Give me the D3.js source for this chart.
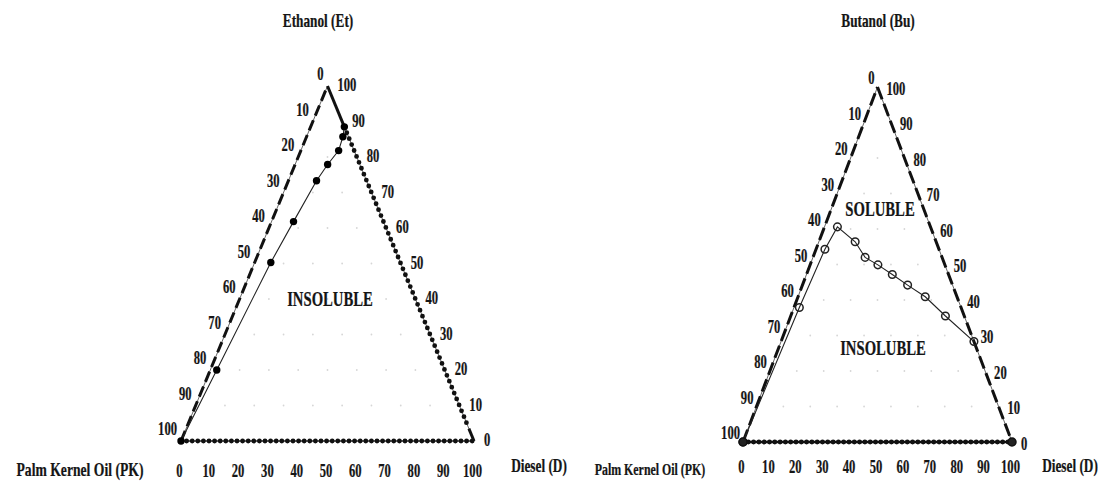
<!DOCTYPE html>
<html>
<head>
<meta charset="utf-8">
<script src="https://cdn.jsdelivr.net/npm/d3@7"></script>
<style>
  body { margin: 0; background: #fff; }
  text { font-family: "Liberation Serif", "Times New Roman", serif; font-weight: bold; fill: #151515; stroke: #151515; stroke-width: 0.25px; }
</style>
</head>
<body>
<div id="chart"></div>
<script>
// tick values on every side of both triangles
const ticks = [0, 10, 20, 30, 40, 50, 60, 70, 80, 90, 100];

// ethanol / palm kernel oil / diesel solubility curve (percent)
const etDiesel  = [0, 2.2, 5.5, 7.5, 9.6, 11.1, 12.9, 12.4, 11.5];
const etEthanol = [0, 20.0, 50.3, 61.8, 73.3, 77.9, 81.8, 85.7, 88.5];

// butanol / palm kernel oil / diesel solubility curve (percent)
const buDiesel  = [0, 2.0, 3.3, 4.8, 13.5, 19.4, 25.2, 31.9, 39.1, 47.3, 57.5, 71.7];
const buButanol = [0, 37.9, 54.3, 60.6, 56.4, 52.0, 49.9, 47.2, 44.2, 40.9, 35.5, 28.3];

const width = 1102;
const height = 483;

const svg = d3.select("#chart")
  .append("svg")
  .attr("width", width)
  .attr("height", height);

// bold condensed serif like the source figure
function label(x, y, str, size, anchor) {
  svg.append("text")
    .attr("transform", `translate(${x},${y}) scale(0.7,1)`)
    .attr("text-anchor", anchor || "middle")
    .attr("font-size", size)
    .text(str);
}

function triangle(opt) {
  const x = d3.scaleLinear().domain([0, 100]).range([opt.x0, opt.x1]);
  const y = d3.scaleLinear().domain([0, 100]).range([opt.y0, opt.y1]);
  // d = diesel %, t = top component %
  const px = (d, t) => x(d + t / 2);
  const py = (d, t) => y(t);
  const line = d3.line().x(p => px(p[0], p[1])).y(p => py(p[0], p[1]));

  const g = svg.append("g");

  // faint grid dots
  ticks.forEach(t => {
    ticks.forEach(d => {
      if (t > 0 && d > 0 && t + d < 100) {
        g.append("circle")
          .attr("cx", px(d, t))
          .attr("cy", py(d, t))
          .attr("r", 0.9)
          .attr("fill", "#d6d6d6");
      }
    });
  });

  const BL = [0, 0], BR = [100, 0], AP = [0, 100];

  // thin frame underneath
  g.append("path")
    .attr("d", line([BL, AP, BR, BL]))
    .attr("fill", "none")
    .attr("stroke", "#666")
    .attr("stroke-width", 1);

  // left edge: long dashes
  g.append("path")
    .attr("d", line([BL, AP]))
    .attr("fill", "none")
    .attr("stroke", "#111")
    .attr("stroke-width", 3)
    .attr("stroke-dasharray", opt.dash);

  if (opt.rightDotted) {
    g.append("path")
      .attr("d", line([[100 - 88.5, 88.5], AP]))
      .attr("fill", "none")
      .attr("stroke", "#111")
      .attr("stroke-width", 3);
    g.append("path")
      .attr("d", line([[100 - 88.5, 88.5], [95.5, 4.5]]))
      .attr("fill", "none")
      .attr("stroke", "#111")
      .attr("stroke-width", 4.8)
      .attr("stroke-linecap", "round")
      .attr("stroke-dasharray", "0,6.4");
    g.append("path")
      .attr("d", line([[96.5, 3.5], BR]))
      .attr("fill", "none")
      .attr("stroke", "#111")
      .attr("stroke-width", 3);
  } else {
    g.append("path")
      .attr("d", line([AP, BR]))
      .attr("fill", "none")
      .attr("stroke", "#111")
      .attr("stroke-width", 3)
      .attr("stroke-dasharray", opt.dash);
  }

  // bottom edge: chain of dots
  g.append("path")
    .attr("d", line([BL, BR]))
    .attr("fill", "none")
    .attr("stroke", "#111")
    .attr("stroke-width", opt.bottomLine);
  g.append("path")
    .attr("d", line([BL, BR]))
    .attr("fill", "none")
    .attr("stroke", "#111")
    .attr("stroke-width", 4.8)
    .attr("stroke-linecap", "round")
    .attr("stroke-dasharray", opt.bottomDots);

  // solubility curve
  const pts = opt.diesel.map((d, i) => [d, opt.top[i]]);
  g.append("path")
    .attr("d", line(pts))
    .attr("fill", "none")
    .attr("stroke", "#222")
    .attr("stroke-width", 1.1);

  g.selectAll(".pt")
    .data(pts)
    .join("circle")
    .attr("cx", p => px(p[0], p[1]))
    .attr("cy", p => py(p[0], p[1]))
    .attr("r", opt.hollow ? 3.8 : 3.7)
    .attr("fill", opt.hollow ? "none" : "#000")
    .attr("stroke", opt.hollow ? "#222" : "none")
    .attr("stroke-width", 1.5);

  if (opt.hollow) {
    [BL, BR].forEach(p => {
      g.append("circle")
        .attr("cx", px(p[0], p[1]))
        .attr("cy", py(p[0], p[1]))
        .attr("r", 4)
        .attr("fill", "#222")
        .attr("stroke", "#111")
        .attr("stroke-width", 1.5);
    });
  }

  // tick labels
  ticks.forEach(v => {
    // left edge: palm kernel oil
    label(px(0, 100 - v) - opt.lx, py(0, 100 - v) - opt.ly, v, 18, "end");
    // right edge: alcohol
    label(px(100 - v, v) + opt.rx, py(100 - v, v) + opt.ry, v, 18, "start");
    // bottom: diesel
    label(px(v, 0) - 1.5, opt.by, v, 18, "middle");
  });

  label(opt.titleX, 27, opt.title, 19, "middle");
}

triangle({
  x0: 181, x1: 474, y0: 441, y1: 86,
  diesel: etDiesel, top: etEthanol,
  dash: "11,5", rightDotted: true,
  bottomLine: 1, bottomDots: "0,5.6",
  hollow: false,
  lx: 4, ly: 6, rx: 10, ry: 5, by: 477,
  title: "Ethanol (Et)", titleX: 318
});

triangle({
  x0: 743, x1: 1012, y0: 442, y1: 87,
  diesel: buDiesel, top: buButanol,
  dash: "13,5", rightDotted: false,
  bottomLine: 2.4, bottomDots: "0,5.3",
  hollow: true,
  lx: 3, ly: 3, rx: 9, ry: 7.5, by: 473,
  title: "Butanol (Bu)", titleX: 878
});

label(330, 306, "INSOLUBLE", 21, "middle");
label(880, 216, "SOLUBLE", 21, "middle");
label(883, 355, "INSOLUBLE", 21, "middle");

label(80, 476, "Palm Kernel Oil (PK)", 19.5, "middle");
label(539, 472, "Diesel (D)", 19, "middle");
label(650, 475, "Palm Kernel Oil (PK)", 17, "middle");
label(1070, 472, "Diesel (D)", 19, "middle");
</script>
</body>
</html>
